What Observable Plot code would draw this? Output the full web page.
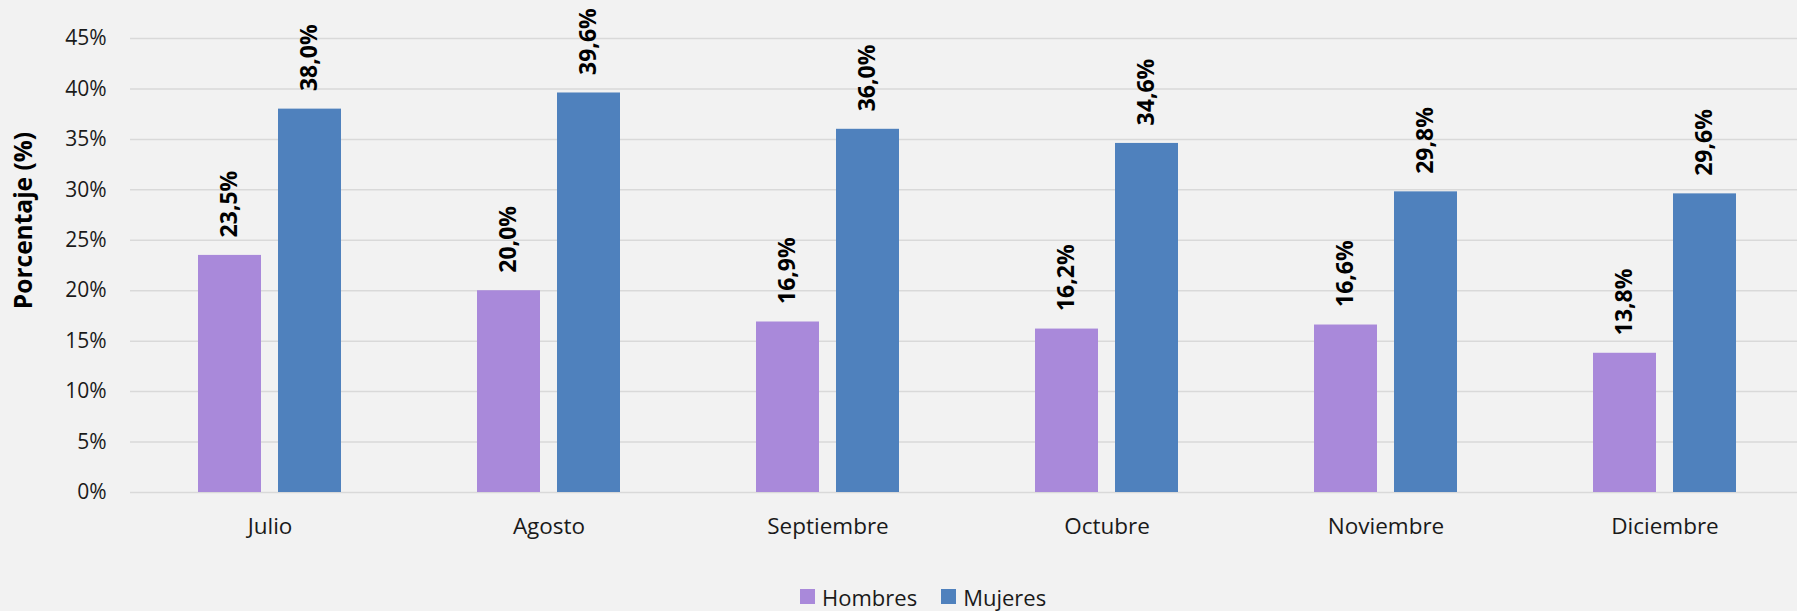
<!DOCTYPE html>
<html>
<head>
<meta charset="utf-8">
<script src="https://cdn.jsdelivr.net/npm/d3@7"></script>
<script src="https://cdn.jsdelivr.net/npm/@observablehq/plot@0.6"></script>
<style>
  html, body { margin: 0; padding: 0; background: #f2f2f2; }
  #legend { display: flex; align-items: center; height: 51px; padding-left: 800px; padding-top: 22px; font-family: "Open Sans", sans-serif; font-size: 22px; color: #1a1a1a; box-sizing: border-box; }
  #legend .sw { width: 15px; height: 15px; display: inline-block; margin-right: 7px; }
  #legend .item { display: flex; align-items: center; margin-right: 24px; }
</style>
</head>
<body>
<div id="chart"></div>
<script>
const months = ["Julio", "Agosto", "Septiembre", "Octubre", "Noviembre", "Diciembre"];
const series = ["Hombres", "Mujeres"];
const hombres = [23.5, 20.0, 16.9, 16.2, 16.6, 13.8];
const mujeres = [38.0, 39.6, 36.0, 34.6, 29.8, 29.6];
const yTicks = [0, 5, 10, 15, 20, 25, 30, 35, 40, 45];
const colors = ["#a989da", "#4f81bd"];
const yLabel = "Porcentaje (%)";

const data = months.flatMap((m, i) => [
  {month: m, sex: series[0], value: hombres[i]},
  {month: m, sex: series[1], value: mujeres[i]}
]);

const chart = Plot.plot({
  width: 1797,
  height: 560,
  marginLeft: 130,
  marginRight: 0,
  marginTop: 38,
  marginBottom: 68,
  style: {background: "#f2f2f2", fontFamily: "'Open Sans', sans-serif", fontSize: "21px", color: "#1a1a1a"},
  fx: {domain: months, range: [130, 1804], padding: 0, label: null, axis: "bottom", tickSize: 0, tickPadding: 26},
  x: {domain: series, paddingInner: 0.2125, paddingOuter: 0.85, axis: null},
  y: {domain: [0, 45], ticks: yTicks, tickFormat: d => d + "%", tickSize: 0, tickPadding: 24, label: yLabel, labelAnchor: "center", labelOffset: 116},
  color: {domain: series, range: colors},
  marks: [
    Plot.ruleY(yTicks, {stroke: "#d9d9d9", strokeWidth: 1.5}),
    Plot.barY(data, {fx: "month", x: "sex", y: "value", fill: "sex"}),
    Plot.text(data, {fx: "month", x: "sex", y: "value", text: d => d.value.toFixed(1).replace(".", ",") + "%", rotate: -90, textAnchor: "start", dy: -18, fontWeight: "bold", fontSize: 23, fill: "#000"})
  ]
});
document.getElementById("chart").appendChild(chart);
chart.querySelectorAll("text").forEach(t => {
  const s = t.textContent.trim();
  if (s.startsWith(yLabel)) {
    t.textContent = yLabel;
    t.setAttribute("font-weight", "bold");
    t.style.fontWeight = "bold";
    t.style.fontSize = "24.5px";
    t.setAttribute("fill", "#000");
    t.setAttribute("dx", "45");
  } else if (months.includes(s)) {
    t.style.fontSize = "22.5px";
  }
});

const legend = document.createElement("div");
legend.id = "legend";
series.forEach((s, i) => {
  const item = document.createElement("span");
  item.className = "item";
  const sw = document.createElement("span");
  sw.className = "sw";
  sw.style.background = colors[i];
  item.appendChild(sw);
  item.appendChild(document.createTextNode(s));
  legend.appendChild(item);
});
document.body.appendChild(legend);
</script>
</body>
</html>
